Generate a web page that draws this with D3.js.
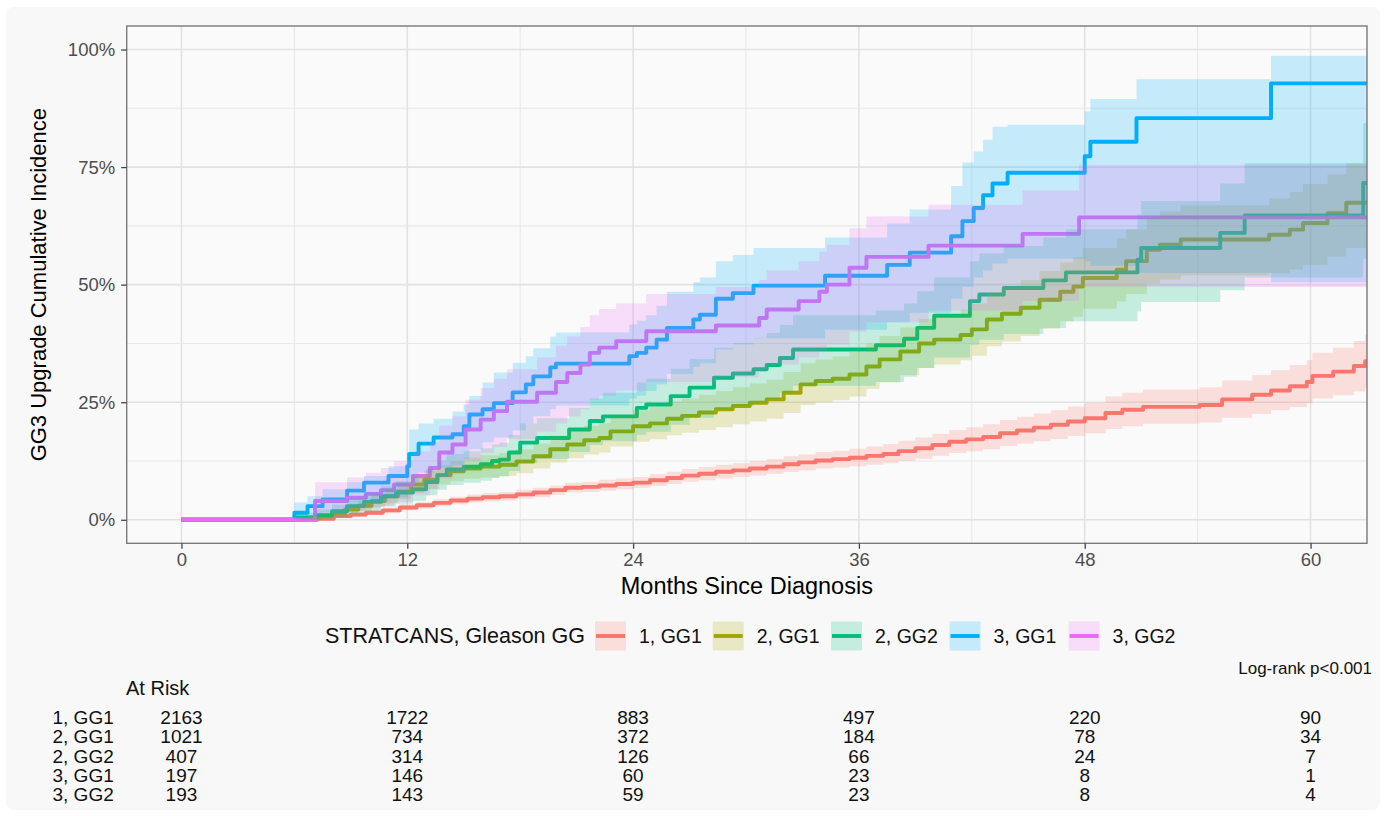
<!DOCTYPE html>
<html>
<head>
<meta charset="utf-8">
<script src="https://cdn.jsdelivr.net/npm/d3@7"></script>
<style>
  html, body { margin: 0; padding: 0; background: #ffffff; }
  svg { display: block; font-family: "Liberation Sans", Arial, Helvetica, sans-serif; }
</style>
</head>
<body>
<svg id="chart" width="1387" height="816"></svg>
<script>
// ---- Strata ----
const strataLabels = ["1, GG1", "2, GG1", "2, GG2", "3, GG1", "3, GG2"];
const strataColors = ["#F8766D", "#A3A500", "#00BF7D", "#00B0F6", "#E76BF3"];
const legendTitle = "STRATCANS, Gleason GG";

// ---- Cumulative incidence (%) with 95% CI, step functions over months ----
// 1, GG1
const s1Time = [0, 7.2, 8.1, 9.0, 9.8, 10.7, 11.6, 12.5, 13.4, 14.3, 15.2, 16.0, 16.9, 17.8, 18.7, 19.6, 20.4, 21.3, 22.2, 23.1, 24.0, 24.9, 25.8, 26.6, 27.5, 28.4, 29.3, 30.2, 31.1, 32.0, 32.8, 33.7, 34.6, 35.5, 36.4, 37.3, 38.1, 39.0, 39.9, 40.8, 41.7, 42.6, 43.5, 44.4, 45.3, 46.2, 47.1, 48.0, 49.1, 50.0, 51.1, 54.1, 55.3, 56.9, 57.9, 58.9, 59.8, 60.1, 61.2, 62.3, 62.9, 63.0];
const s1Est  = [0, 0.2, 0.8, 1.1, 1.5, 2.0, 2.6, 3.1, 3.6, 4.1, 4.5, 4.8, 5.0, 5.4, 5.8, 6.3, 6.8, 7.0, 7.3, 7.6, 7.9, 8.4, 8.9, 9.4, 9.8, 10.2, 10.5, 10.9, 11.3, 11.8, 12.2, 12.6, 12.9, 13.2, 13.6, 14.0, 14.6, 15.2, 15.9, 16.6, 17.1, 17.6, 18.4, 19.0, 19.6, 20.2, 20.9, 21.6, 22.7, 23.4, 24.0, 24.4, 25.6, 26.6, 27.5, 28.4, 29.3, 30.6, 31.5, 32.7, 33.7, 33.7];
const s1Low  = [0, 0.0, 0.4, 0.6, 1.0, 1.4, 2.0, 2.4, 2.9, 3.3, 3.7, 3.9, 4.1, 4.5, 4.8, 5.3, 5.8, 5.9, 6.2, 6.5, 6.8, 7.2, 7.6, 8.1, 8.4, 8.8, 9.1, 9.4, 9.8, 10.2, 10.5, 10.9, 11.1, 11.4, 11.7, 12.0, 12.5, 13.0, 13.6, 14.2, 14.6, 15.0, 15.7, 16.2, 16.7, 17.2, 17.8, 18.4, 19.3, 19.9, 20.4, 20.7, 21.7, 22.5, 23.3, 24.0, 24.8, 25.8, 26.5, 27.3, 28.0, 28.0];
const s1High = [0, 0.5, 1.3, 1.6, 2.1, 2.6, 3.3, 3.8, 4.4, 4.9, 5.4, 5.7, 5.9, 6.4, 6.8, 7.3, 7.9, 8.1, 8.5, 8.8, 9.1, 9.7, 10.2, 10.8, 11.2, 11.7, 12.0, 12.5, 12.9, 13.5, 13.9, 14.4, 14.7, 15.1, 15.6, 16.1, 16.8, 17.5, 18.3, 19.1, 19.7, 20.3, 21.2, 21.9, 22.6, 23.3, 24.1, 24.9, 26.2, 27.0, 27.7, 28.2, 29.6, 30.8, 31.8, 32.9, 33.9, 35.5, 36.6, 38.0, 39.3, 39.3];

// 2, GG1
const s2Time = [0, 6.6, 7.3, 8.0, 8.7, 9.4, 10.1, 10.8, 11.5, 12.2, 12.9, 13.6, 14.3, 15.0, 15.9, 16.9, 17.8, 18.7, 19.6, 20.5, 21.4, 22.2, 22.8, 24.0, 24.9, 25.8, 26.6, 27.5, 28.4, 29.3, 30.2, 31.1, 32.0, 32.9, 33.7, 34.6, 35.5, 36.4, 37.1, 38.2, 39.2, 40.0, 41.4, 42.0, 42.8, 43.6, 44.6, 45.6, 46.7, 47.4, 47.9, 49.7, 50.2, 51.3, 52.0, 53.1, 57.8, 58.9, 59.6, 60.9, 61.9, 63.0];
const s2Est  = [0, 0.3, 0.8, 1.5, 2.2, 3.0, 4.0, 5.0, 6.0, 7.5, 8.5, 9.5, 10.3, 10.9, 11.3, 11.7, 12.4, 13.5, 15.0, 16.0, 16.9, 17.4, 18.8, 19.9, 20.5, 21.5, 22.1, 22.8, 23.5, 24.2, 24.9, 25.6, 27.0, 28.8, 29.5, 30.0, 30.9, 32.6, 34.1, 35.8, 37.5, 38.3, 39.3, 40.5, 42.6, 43.8, 45.1, 46.8, 48.5, 49.6, 51.4, 53.2, 55.0, 57.4, 58.5, 59.6, 60.6, 61.7, 63.1, 65.2, 67.4, 67.4];
const s2Low  = [0, 0.0, 0.3, 0.8, 1.3, 1.9, 2.7, 3.5, 4.4, 5.7, 6.6, 7.5, 8.2, 8.7, 9.0, 9.3, 9.9, 10.9, 12.2, 13.1, 13.9, 14.3, 15.6, 16.6, 17.1, 18.0, 18.5, 19.1, 19.7, 20.3, 20.9, 21.5, 22.7, 24.4, 25.0, 25.4, 26.2, 27.8, 29.2, 30.8, 32.3, 33.0, 33.9, 34.9, 36.9, 37.9, 39.1, 40.6, 42.2, 43.2, 44.9, 46.4, 48.0, 50.2, 51.1, 52.0, 52.4, 53.2, 54.2, 56.0, 57.8, 57.8];
const s2High = [0, 0.9, 1.5, 2.3, 3.2, 4.1, 5.3, 6.5, 7.7, 9.4, 10.5, 11.6, 12.5, 13.2, 13.7, 14.2, 15.0, 16.2, 17.9, 19.0, 20.0, 20.6, 22.1, 23.3, 24.0, 25.1, 25.8, 26.6, 27.4, 28.2, 29.0, 29.8, 31.4, 33.3, 34.1, 34.7, 35.7, 37.5, 39.1, 40.9, 42.7, 43.6, 44.7, 46.0, 48.3, 49.6, 51.0, 52.9, 54.7, 55.9, 57.8, 59.8, 61.8, 64.4, 65.6, 66.9, 68.3, 69.7, 71.4, 73.5, 75.8, 75.8];

// 2, GG2
const s3Time = [0, 6.1, 7.2, 8.0, 8.8, 9.7, 10.6, 11.4, 12.3, 13.0, 13.6, 14.1, 15.0, 15.9, 16.5, 16.9, 17.4, 18.0, 18.9, 20.6, 21.7, 22.4, 24.2, 24.7, 26.0, 27.0, 28.3, 29.3, 30.4, 31.1, 31.8, 32.5, 36.9, 38.4, 39.1, 40.0, 41.9, 42.4, 43.7, 45.8, 47.0, 50.8, 51.0, 55.2, 56.5, 62.8, 63.0];
const s3Est  = [0, 0.5, 1.0, 1.8, 2.9, 3.8, 5.0, 5.8, 6.5, 8.0, 9.5, 10.7, 11.3, 11.8, 12.5, 12.8, 14.3, 16.4, 17.4, 19.2, 21.0, 22.0, 23.8, 24.5, 26.3, 28.1, 30.2, 31.1, 32.0, 32.9, 34.4, 36.2, 37.1, 38.5, 40.8, 43.4, 46.5, 47.9, 49.3, 50.9, 52.6, 55.3, 57.8, 61.0, 64.7, 71.6, 71.6];
const s3Low  = [0, 0, 0.2, 0.6, 1.3, 1.9, 2.8, 3.4, 4.0, 5.2, 6.4, 7.4, 7.9, 8.3, 8.9, 9.2, 10.4, 12.1, 12.9, 14.4, 15.9, 16.7, 18.1, 18.7, 20.2, 21.7, 23.5, 24.2, 25.0, 25.7, 27.0, 28.5, 29.3, 30.4, 32.3, 34.5, 37.2, 38.3, 39.5, 40.8, 42.2, 44.3, 46.3, 48.8, 51.5, 55.5, 55.5];
const s3High = [0, 1.5, 2.2, 3.2, 4.6, 5.8, 7.2, 8.2, 9.0, 10.8, 12.6, 14.0, 14.6, 15.2, 16.0, 16.4, 18.1, 20.5, 21.6, 23.8, 25.8, 27.0, 29.2, 30.0, 32.1, 34.2, 36.6, 37.6, 38.7, 39.7, 41.4, 43.5, 44.5, 46.0, 48.6, 51.5, 55.0, 56.6, 58.2, 60.0, 61.8, 64.9, 67.8, 71.5, 75.8, 84.4, 84.4];

// 3, GG1
const s4Time = [0, 6.0, 6.7, 7.5, 8.8, 9.7, 11.0, 12.0, 12.1, 12.6, 13.4, 14.4, 15.0, 15.3, 16.0, 16.6, 17.6, 18.3, 18.7, 19.6, 19.9, 23.8, 24.2, 24.7, 25.25, 25.8, 27.2, 27.55, 28.4, 29.3, 30.4, 34.2, 37.5, 38.7, 40.9, 41.5, 42.1, 42.6, 43.1, 43.9, 48.0, 48.3, 50.75, 57.9, 63.0];
const s4Est  = [0, 1.5, 2.9, 4.3, 6.2, 7.9, 9.3, 11.4, 14.0, 16.2, 17.5, 18.2, 19.9, 22.4, 23.5, 24.8, 27.1, 28.8, 30.5, 32.4, 33.2, 34.8, 35.5, 36.6, 38.3, 40.8, 42.6, 43.6, 47.0, 48.2, 49.8, 51.9, 54.2, 56.8, 60.3, 63.5, 66.3, 69.0, 71.5, 73.8, 77.3, 80.4, 85.4, 92.8, 92.8];
const s4Low  = [0, 0.2, 0.8, 1.5, 2.8, 3.8, 4.8, 6.5, 8.0, 10.0, 11.0, 11.6, 13.0, 15.0, 16.5, 17.5, 19.0, 20.5, 22.0, 23.5, 24.3, 25.8, 26.4, 27.4, 28.8, 31.0, 32.5, 33.3, 36.2, 37.3, 38.6, 40.4, 42.0, 44.0, 47.0, 49.5, 51.5, 53.0, 54.5, 55.5, 55.0, 54.0, 52.5, 50.5, 50.5];
const s4High = [0, 3.7, 5.0, 6.5, 8.0, 9.3, 11.4, 13.5, 19.2, 20.5, 21.5, 23.0, 24.5, 26.3, 29.2, 31.3, 33.4, 34.8, 36.5, 39.0, 39.8, 41.5, 42.3, 43.5, 45.5, 48.5, 50.5, 51.5, 55.0, 56.3, 57.8, 60.0, 63.0, 66.0, 71.0, 76.0, 78.3, 80.8, 83.6, 84.0, 86.8, 89.5, 93.7, 98.7, 98.7];

// 3, GG2
const s5Time = [0, 7.1, 8.8, 9.8, 10.6, 11.3, 12.3, 13.2, 13.7, 14.4, 15.1, 15.9, 16.6, 17.3, 18.9, 19.9, 20.5, 21.2, 21.7, 22.2, 23.1, 24.7, 28.4, 30.7, 31.1, 32.8, 33.9, 34.3, 35.5, 36.4, 39.7, 44.7, 47.7, 63.0];
const s5Est  = [0, 4.0, 4.7, 5.5, 6.3, 7.5, 9.3, 11.0, 14.3, 16.0, 19.2, 21.3, 23.1, 25.1, 27.0, 29.3, 31.2, 33.0, 35.5, 36.6, 38.0, 40.1, 41.3, 42.9, 44.7, 46.5, 48.5, 50.0, 53.6, 55.9, 58.3, 60.8, 64.3, 64.3];
const s5Low  = [0, 1.5, 2.0, 2.4, 3.0, 3.8, 5.2, 6.5, 8.8, 10.0, 12.5, 14.2, 15.5, 17.2, 18.7, 20.5, 22.0, 23.5, 25.5, 26.3, 27.5, 29.3, 30.3, 31.5, 33.0, 34.5, 36.0, 37.2, 40.0, 42.0, 44.5, 46.5, 49.5, 49.5];
const s5High = [0, 8.0, 9.0, 10.0, 11.0, 12.5, 14.5, 16.5, 20.0, 22.0, 25.5, 28.0, 30.0, 32.0, 34.5, 37.0, 39.0, 41.0, 43.5, 44.8, 46.0, 48.0, 49.5, 51.0, 53.0, 55.0, 57.0, 58.5, 62.0, 64.5, 67.0, 70.0, 75.5, 75.5];

// ---- Axes ----
const xTicks = [0, 12, 24, 36, 48, 60];
const xMinor = [6, 18, 30, 42, 54];
const yTicks = [0, 25, 50, 75, 100];
const yMinor = [12.5, 37.5, 62.5, 87.5];

// ---- Numbers at risk ----
const riskTimes = [0, 12, 24, 36, 48, 60];
const risk1 = [2163, 1722, 883, 497, 220, 90];
const risk2 = [1021, 734, 372, 184, 78, 34];
const risk3 = [407, 314, 126, 66, 24, 7];
const risk4 = [197, 146, 60, 23, 8, 1];
const risk5 = [193, 143, 59, 23, 8, 4];
const pValueText = "Log-rank p<0.001";

// ---- Build series ----
const seriesTime = [s1Time, s2Time, s3Time, s4Time, s5Time];
const seriesEst = [s1Est, s2Est, s3Est, s4Est, s5Est];
const seriesLow = [s1Low, s2Low, s3Low, s4Low, s5Low];
const seriesHigh = [s1High, s2High, s3High, s4High, s5High];
const riskRows = [risk1, risk2, risk3, risk4, risk5];

const series = strataLabels.map((label, i) => ({
  label,
  color: strataColors[i],
  points: seriesTime[i].map((t, j) => ({
    t, est: seriesEst[i][j], lo: seriesLow[i][j], hi: seriesHigh[i][j]
  }))
}));

// ---- Layout ----
const svg = d3.select("#chart");
const panel = { left: 126.7, right: 1367, top: 26, bottom: 543.3 };
const bandOpacity = 0.21;

const x = d3.scaleLinear().domain([-2.91, 63.0]).range([panel.left, panel.right]);
const y = d3.scaleLinear().domain([-5, 105]).range([panel.bottom, panel.top]);

// page backdrop
svg.append("rect").attr("x", 0).attr("y", 0).attr("width", 1387).attr("height", 816).attr("fill", "#ffffff");
svg.append("rect").attr("x", 6).attr("y", 7).attr("width", 1374).attr("height", 803)
  .attr("rx", 8).attr("fill", "#f8f8f8");

// panel background
svg.append("rect")
  .attr("x", panel.left).attr("y", panel.top)
  .attr("width", panel.right - panel.left).attr("height", panel.bottom - panel.top)
  .attr("fill", "#fafafa");

// grid
const grid = svg.append("g");
grid.selectAll("line.vmin").data(xMinor).join("line")
  .attr("x1", d => x(d)).attr("x2", d => x(d))
  .attr("y1", panel.top).attr("y2", panel.bottom)
  .attr("stroke", "#e8e8e8").attr("stroke-width", 1.1);
grid.selectAll("line.hmin").data(yMinor).join("line")
  .attr("y1", d => y(d)).attr("y2", d => y(d))
  .attr("x1", panel.left).attr("x2", panel.right)
  .attr("stroke", "#e8e8e8").attr("stroke-width", 1.1);
grid.selectAll("line.vmaj").data(xTicks).join("line")
  .attr("x1", d => x(d)).attr("x2", d => x(d))
  .attr("y1", panel.top).attr("y2", panel.bottom)
  .attr("stroke", "#e2e2e2").attr("stroke-width", 1.6);
grid.selectAll("line.hmaj").data(yTicks).join("line")
  .attr("y1", d => y(d)).attr("y2", d => y(d))
  .attr("x1", panel.left).attr("x2", panel.right)
  .attr("stroke", "#e2e2e2").attr("stroke-width", 1.6);

// clip to panel
svg.append("defs").append("clipPath").attr("id", "panelClip")
  .append("rect")
  .attr("x", panel.left).attr("y", panel.top)
  .attr("width", panel.right - panel.left).attr("height", panel.bottom - panel.top);

const plot = svg.append("g").attr("clip-path", "url(#panelClip)");

const stepLine = d3.line()
  .x(d => x(d.t)).y(d => y(d.est))
  .curve(d3.curveStepAfter);
const stepBand = d3.area()
  .x(d => x(d.t)).y0(d => y(d.lo)).y1(d => y(d.hi))
  .curve(d3.curveStepAfter);

// curves first, confidence bands laid over them
plot.selectAll("path.curve").data(series).join("path")
  .attr("class", "curve")
  .attr("d", d => stepLine(d.points))
  .attr("fill", "none")
  .attr("stroke", d => d.color)
  .attr("stroke-width", 3.9)
  .attr("stroke-linejoin", "round");

plot.selectAll("path.band").data(series).join("path")
  .attr("class", "band")
  .attr("d", d => stepBand(d.points))
  .attr("fill", d => d.color)
  .attr("fill-opacity", bandOpacity)
  .attr("stroke", "none");

// panel border
svg.append("rect")
  .attr("x", panel.left).attr("y", panel.top)
  .attr("width", panel.right - panel.left).attr("height", panel.bottom - panel.top)
  .attr("fill", "none").attr("stroke", "#7a7a7a").attr("stroke-width", 1.4);

// axes
const xAxis = d3.axisBottom(x).tickValues(xTicks).tickSize(5.5).tickPadding(4).tickFormat(d3.format("d"));
const yAxis = d3.axisLeft(y).tickValues(yTicks).tickSize(5.5).tickPadding(6).tickFormat(d => d + "%");

const gx = svg.append("g").attr("transform", `translate(0,${panel.bottom})`).call(xAxis);
const gy = svg.append("g").attr("transform", `translate(${panel.left},0)`).call(yAxis);
[gx, gy].forEach(g => {
  g.select(".domain").remove();
  g.selectAll(".tick line").attr("stroke", "#444").attr("stroke-width", 1.3);
  g.selectAll(".tick text")
    .attr("fill", "#4d4d4d")
    .style("font-size", "18.5px")
    .style("font-family", "'Liberation Sans', Arial, sans-serif");
});
gx.selectAll(".tick text").attr("dy", "0.71em");

// axis titles
svg.append("text")
  .attr("x", (panel.left + panel.right) / 2).attr("y", 586)
  .attr("text-anchor", "middle").attr("dominant-baseline", "central")
  .style("font-size", "23.5px").attr("fill", "#000")
  .text("Months Since Diagnosis");
svg.append("text")
  .attr("transform", `translate(38,${(panel.top + panel.bottom) / 2}) rotate(-90)`)
  .attr("text-anchor", "middle").attr("dominant-baseline", "central")
  .style("font-size", "22px").attr("fill", "#000")
  .text("GG3 Upgrade Cumulative Incidence");

// legend
const legendY = 636;
const keyX = [595, 712.7, 831, 949.5, 1068.6];
const keyW = 31, keyH = 29;
svg.append("text")
  .attr("x", 585).attr("y", legendY)
  .attr("text-anchor", "end").attr("dominant-baseline", "central")
  .style("font-size", "21.5px").attr("fill", "#111")
  .text(legendTitle);
const leg = svg.selectAll("g.key").data(series).join("g")
  .attr("class", "key")
  .attr("transform", (d, i) => `translate(${keyX[i]},${legendY - keyH / 2})`);
leg.append("rect").attr("width", keyW).attr("height", keyH).attr("fill", "#fafafa");
leg.append("line")
  .attr("x1", 1).attr("x2", keyW - 1).attr("y1", keyH / 2).attr("y2", keyH / 2)
  .attr("stroke", d => d.color).attr("stroke-width", 3.9);
leg.append("rect").attr("width", keyW).attr("height", keyH)
  .attr("fill", d => d.color).attr("fill-opacity", bandOpacity);
leg.append("text")
  .attr("x", 44).attr("y", keyH / 2)
  .attr("dominant-baseline", "central")
  .style("font-size", "19.5px").attr("fill", "#111")
  .text(d => d.label);

// p-value
svg.append("text")
  .attr("x", 1372).attr("y", 668)
  .attr("text-anchor", "end").attr("dominant-baseline", "central")
  .style("font-size", "17px").attr("fill", "#111")
  .text(pValueText);

// numbers at risk table
svg.append("text")
  .attr("x", 126).attr("y", 688)
  .attr("dominant-baseline", "central")
  .style("font-size", "20px").attr("fill", "#111")
  .text("At Risk");

const rowY = [717.3, 736.7, 756, 775.3, 794.3];
const table = svg.append("g");
strataLabels.forEach((label, i) => {
  table.append("text")
    .attr("x", 52.5).attr("y", rowY[i])
    .attr("dominant-baseline", "central")
    .style("font-size", "19px").attr("fill", "#111")
    .text(label);
  table.selectAll(null).data(riskRows[i]).join("text")
    .attr("x", (d, j) => x(riskTimes[j]))
    .attr("y", rowY[i])
    .attr("text-anchor", "middle").attr("dominant-baseline", "central")
    .style("font-size", "19px").attr("fill", "#111")
    .text(d => d);
});
</script>
</body>
</html>
